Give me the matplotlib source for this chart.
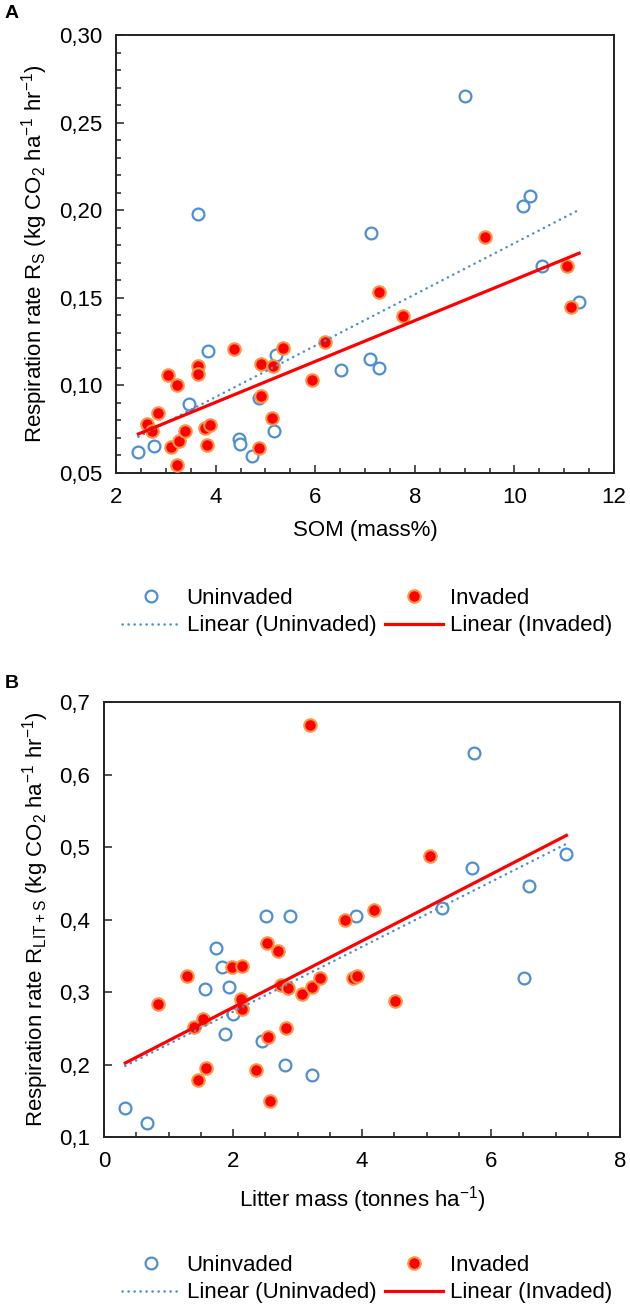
import numpy as np
import matplotlib
matplotlib.use("Agg")
import matplotlib.pyplot as plt
from matplotlib.lines import Line2D
from matplotlib.ticker import MultipleLocator, FuncFormatter

plt.rcParams["font.family"] = ["Liberation Sans", "DejaVu Sans"]
plt.rcParams["mathtext.fontset"] = "custom"
plt.rcParams["mathtext.rm"] = "Liberation Sans"
plt.rcParams["mathtext.it"] = "Liberation Sans"

# --- Panel A: SOM vs soil respiration ---
a_unin_x = [2.45, 2.77, 3.47, 3.65, 3.84, 4.46, 4.49, 4.74, 4.87, 5.18, 5.21,
            6.51, 7.10, 7.13, 7.29, 9.00, 10.18, 10.31, 10.56, 11.30]
a_unin_y = [0.062, 0.0656, 0.0892, 0.198, 0.1196, 0.0692, 0.0666, 0.0597, 0.093,
            0.074, 0.1174, 0.109, 0.115, 0.187, 0.1098, 0.265, 0.2026, 0.208,
            0.168, 0.1476]
a_inv_x = [2.63, 2.73, 2.85, 3.04, 3.10, 3.22, 3.22, 3.27, 3.39, 3.64, 3.64,
           3.79, 3.83, 3.89, 4.36, 4.87, 4.91, 4.91, 5.13, 5.16, 5.36, 5.93,
           6.20, 7.29, 7.77, 9.40, 11.05, 11.14]
a_inv_y = [0.078, 0.074, 0.0844, 0.106, 0.0647, 0.1002, 0.0546, 0.0683, 0.0742,
           0.1113, 0.1065, 0.0755, 0.066, 0.0774, 0.1206, 0.0644, 0.0941, 0.112,
           0.0816, 0.1113, 0.1215, 0.103, 0.1246, 0.1535, 0.1398, 0.1845,
           0.168, 0.1446]
# trendlines: (slope, intercept), drawn over x range
a_trend_unin = (0.01464, 0.0348)
a_trend_inv = (0.01166, 0.0437)
a_trend_range = [2.45, 11.30]

# --- Panel B: litter mass vs litter+soil respiration ---
b_unin_x = [0.33, 0.66, 1.56, 1.74, 1.83, 1.87, 1.94, 2.00, 2.45, 2.51, 2.80,
            2.89, 3.22, 3.91, 5.24, 5.71, 5.74, 6.51, 6.59, 7.16]
b_unin_y = [0.140, 0.120, 0.304, 0.361, 0.335, 0.242, 0.307, 0.270, 0.232,
            0.405, 0.199, 0.405, 0.186, 0.405, 0.416, 0.471, 0.630, 0.320,
            0.446, 0.490]
b_inv_x = [0.83, 1.29, 1.40, 1.45, 1.53, 1.58, 1.99, 2.12, 2.14, 2.14, 2.35,
           2.52, 2.55, 2.58, 2.70, 2.74, 2.82, 2.85, 3.07, 3.19, 3.23, 3.35,
           3.74, 3.86, 3.92, 4.19, 4.51, 5.06]
b_inv_y = [0.283, 0.322, 0.252, 0.179, 0.263, 0.195, 0.334, 0.291, 0.336,
           0.276, 0.192, 0.367, 0.238, 0.149, 0.356, 0.309, 0.250, 0.306,
           0.297, 0.668, 0.307, 0.319, 0.399, 0.319, 0.322, 0.413, 0.287,
           0.487]
b_trend_unin = (0.0448, 0.1832)
b_trend_inv = (0.0459, 0.1869)
b_trend_range = [0.33, 7.17]

BLUE = "#4D8FD1"
RED = "#FF0000"
ORANGE = "#F79646"
FS = 16
SUP = r"$\mathregular{^{\u2010}}$"


def comma(decimals):
    return FuncFormatter(lambda v, p: f"{v:.{decimals}f}".replace(".", ","))


def draw_panel(ax, ux, uy, ix, iy, t_unin, t_inv, t_range):
    ax.plot(ux, uy, "o", ms=8.5, mfc="white", mec=BLUE, mew=1.6, zorder=3)
    ax.plot(ix, iy, "o", ms=9, mfc=RED, mec=ORANGE, mew=1.5, zorder=4)
    xs = np.array(t_range)
    ax.plot(xs, t_unin[0] * xs + t_unin[1], color=BLUE, lw=1.8,
            linestyle=(0, (0.1, 2.3)), dash_capstyle="round", zorder=5)
    ax.plot(xs, t_inv[0] * xs + t_inv[1], color=RED, lw=2.3, zorder=6)
    for s in ax.spines.values():
        s.set_linewidth(1.4)
        s.set_color("#222222")
    ax.tick_params(which="both", direction="in", labelsize=FS, pad=10,
                   color="#222222")
    ax.tick_params(which="major", length=6, width=1.1)
    ax.tick_params(which="minor", length=3.5, width=1.1)


def add_legend(fig, y):
    handles = [
        Line2D([], [], marker="o", ls="none", ms=8.5, mfc="white", mec=BLUE, mew=1.6),
        Line2D([], [], color=BLUE, lw=1.8, linestyle=(0, (0.1, 2.3)),
               dash_capstyle="round"),
        Line2D([], [], marker="o", ls="none", ms=9, mfc=RED, mec=ORANGE, mew=1.5),
        Line2D([], [], color=RED, lw=2.3),
    ]
    labels = ["Uninvaded", "Linear (Uninvaded)", "Invaded", "Linear (Invaded)"]
    fig.legend(handles, labels, ncol=2, loc="center",
               bbox_to_anchor=(367 / 630, y), frameon=False, fontsize=FS,
               handlelength=2.6, handletextpad=0.3, columnspacing=0.4,
               labelspacing=0.3)


def unit(prefix):
    return (prefix + r" (kg CO$\mathregular{_2}$ ha$\mathregular{^{-1}}$ "
            r"hr$\mathregular{^{-1}}$)")


fig = plt.figure(figsize=(6.3, 13.15), dpi=100)
W, H = 630, 1315

axA = fig.add_axes([116 / W, 1 - 473 / H, (614 - 116) / W, (473 - 35) / H])
draw_panel(axA, a_unin_x, a_unin_y, a_inv_x, a_inv_y,
           a_trend_unin, a_trend_inv, a_trend_range)
axA.set_xlim(2, 12)
axA.set_ylim(0.05, 0.30)
axA.xaxis.set_major_locator(MultipleLocator(2))
axA.xaxis.set_minor_locator(MultipleLocator(0.5))
axA.yaxis.set_major_locator(MultipleLocator(0.05))
axA.yaxis.set_minor_locator(MultipleLocator(0.01))
axA.yaxis.set_major_formatter(comma(2))
axA.set_xlabel("SOM (mass%)", fontsize=FS, labelpad=9)
axA.set_ylabel(unit(r"Respiration rate R$\mathregular{_S}$"),
               fontsize=FS, labelpad=6)
fig.text(12 / W, 1 - 13 / H, "A", fontsize=14, fontweight="bold",
         ha="center", va="center")
add_legend(fig, 1 - 612 / H)

axB = fig.add_axes([104 / W, 1 - 1137 / H, (620 - 104) / W, (1137 - 702) / H])
draw_panel(axB, b_unin_x, b_unin_y, b_inv_x, b_inv_y,
           b_trend_unin, b_trend_inv, b_trend_range)
axB.set_xlim(0, 8)
axB.set_ylim(0.1, 0.7)
axB.xaxis.set_major_locator(MultipleLocator(2))
axB.xaxis.set_minor_locator(MultipleLocator(0.5))
axB.yaxis.set_major_locator(MultipleLocator(0.1))
axB.yaxis.set_major_formatter(comma(1))
axB.set_xlabel(r"Litter mass (tonnes ha$\mathregular{^{-1}}$)", fontsize=FS,
               labelpad=9)
axB.set_ylabel(unit(r"Respiration rate R$\mathregular{_{LIT+S}}$"),
               fontsize=FS, labelpad=6)
fig.text(12 / W, 1 - 683 / H, "B", fontsize=14, fontweight="bold",
         ha="center", va="center")
add_legend(fig, 1 - 1279 / H)

fig.savefig("out.png", dpi=100)
